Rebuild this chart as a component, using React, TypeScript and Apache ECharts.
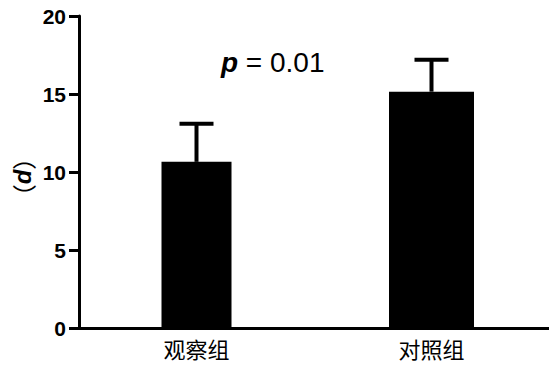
import React, { useEffect, useRef } from "react";
import * as echarts from "echarts";

const categories = ["观察组", "对照组"];
const means = [10.65, 15.15];
const errors = [2.45, 2.05];
const yTicks = { min: 0, max: 20, interval: 5 };
const pLabel = "0.01";

const barWidths = [70, 85];

export default function App() {
  const ref = useRef<HTMLDivElement>(null);
  useEffect(() => {
    const chart = echarts.init(ref.current!, undefined, { renderer: "svg" });
    const data = means.map((m, i) => [i, m, errors[i]]);
    chart.setOption({
      animation: false,
      backgroundColor: "#fff",
      grid: { left: 79, right: -2, top: 16, bottom: 39 },
      xAxis: {
        type: "category",
        data: categories,
        axisLine: { lineStyle: { color: "#000", width: 3 } },
        axisTick: { alignWithLabel: true, length: 8, lineStyle: { color: "#000", width: 3 } },
        axisLabel: {
          color: "#000",
          fontSize: 22,
          fontFamily: "Noto Sans CJK SC",
          margin: 9,
        },
        z: 5,
      },
      yAxis: {
        type: "value",
        min: yTicks.min,
        max: yTicks.max,
        interval: yTicks.interval,
        splitLine: { show: false },
        axisLine: { show: true, lineStyle: { color: "#000", width: 3 } },
        axisTick: { show: true, length: 10, lineStyle: { color: "#000", width: 3 } },
        axisLabel: {
          color: "#000",
          fontSize: 21,
          fontWeight: 700,
          fontFamily: "Liberation Sans",
          margin: 13,
        },
      },
      series: [
        {
          type: "custom",
          data,
          z: 2,
          renderItem: (params: any, api: any) => {
            const i = api.value(0);
            const m = api.value(1);
            const e = api.value(2);
            const base = api.coord([i, 0]);
            const top = api.coord([i, m]);
            const errTop = api.coord([i, m + e]);
            const w = barWidths[params.dataIndex];
            const cap = 34;
            return {
              type: "group",
              children: [
                {
                  type: "rect",
                  shape: { x: top[0] - w / 2, y: top[1], width: w, height: base[1] - top[1] },
                  style: { fill: "#000" },
                },
                {
                  type: "line",
                  shape: { x1: top[0], y1: top[1], x2: errTop[0], y2: errTop[1] },
                  style: { stroke: "#000", lineWidth: 4 },
                },
                {
                  type: "line",
                  shape: { x1: errTop[0] - cap / 2, y1: errTop[1], x2: errTop[0] + cap / 2, y2: errTop[1] },
                  style: { stroke: "#000", lineWidth: 4 },
                },
              ],
            };
          },
        },
      ],
      graphic: [
        {
          type: "text",
          x: 22,
          y: 177,
          rotation: Math.PI / 2,
          style: {
            text: "{p|（}{d|d}{p|）}",
            align: "center",
            verticalAlign: "middle",
            rich: {
              p: { fontSize: 24, fill: "#000", fontFamily: "Noto Sans CJK SC" },
              d: {
                fontSize: 24,
                fill: "#000",
                fontWeight: 700,
                fontStyle: "italic",
                fontFamily: "Liberation Sans",
              },
            },
          },
        },
        {
          type: "text",
          left: 221,
          top: 48,
          style: {
            text: "{b|p}{n| = " + pLabel + "}",
            rich: {
              b: {
                fontSize: 28,
                fontWeight: 700,
                fontStyle: "italic",
                fontFamily: "Liberation Sans",
                fill: "#000",
              },
              n: {
                fontSize: 28,
                fontFamily: "Liberation Sans",
                fill: "#000",
              },
            },
          },
        },
      ],
    });
    return () => chart.dispose();
  }, []);
  return <div ref={ref} style={{ width: 549, height: 367, position: "absolute", left: 0, top: 0 }} />;
}
